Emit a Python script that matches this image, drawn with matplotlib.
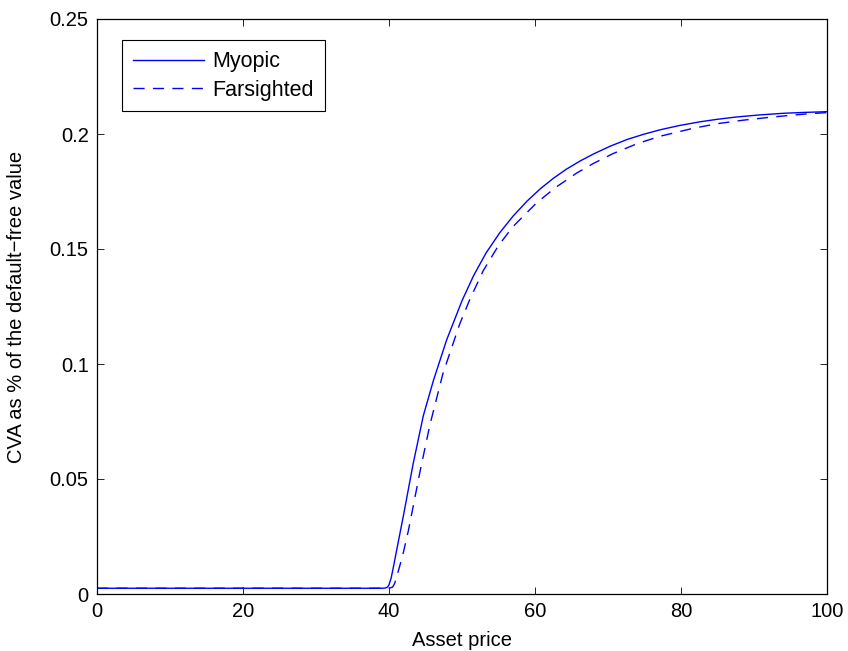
import numpy as np
import matplotlib.pyplot as plt

# values
myopic_x = [0, 10, 20, 30, 38, 39, 39.5, 39.8, 40, 40.3, 40.6, 41.2, 42, 43.3,
            44.7, 46.1, 47.9, 50, 51.6, 53.3, 55.2, 57, 58.9, 60.7, 62.5, 64.3,
            66.2, 68, 70.3, 72.6, 74.8, 77.1, 79.8, 82.6, 85, 87.6, 90.8, 94,
            97, 100]
myopic_y = [0.0025, 0.0025, 0.0025, 0.0025, 0.0025, 0.0025, 0.0026, 0.003,
            0.004, 0.007, 0.0117, 0.0215, 0.0345, 0.0565, 0.0775, 0.093,
            0.1105, 0.1275, 0.1385, 0.1483, 0.1572, 0.1643, 0.1708, 0.1761,
            0.1807, 0.1847, 0.1883, 0.1913, 0.1947, 0.1976, 0.1998, 0.2018,
            0.2037, 0.2053, 0.2064, 0.2074, 0.2083, 0.209, 0.2094, 0.2097]

farsighted_x = [0, 10, 20, 30, 39, 40, 40.5, 40.8, 41.05, 41.5, 42, 42.65, 43.4,
                44.2, 45.6, 47.4, 49.7, 51.1, 52.9, 55, 57, 60.2, 62.8, 65.7,
                68, 70.7, 74, 77.1, 81.7, 85, 88.5, 91.7, 94.9, 97.5, 100]
farsighted_y = [0.0025, 0.0025, 0.0025, 0.0025, 0.0025, 0.0025, 0.003, 0.0048,
                0.0075, 0.0125, 0.0185, 0.0275, 0.0395, 0.0525, 0.0735, 0.096,
                0.1175, 0.1283, 0.1405, 0.1515, 0.1598, 0.170, 0.1767, 0.183,
                0.1872, 0.1915, 0.1958, 0.199, 0.2025, 0.2045, 0.206, 0.2071,
                0.2081, 0.2088, 0.2093]

xticks = [0, 20, 40, 60, 80, 100]
yticks = [0, 0.05, 0.1, 0.15, 0.2, 0.25]

plt.rcParams['font.family'] = ['Liberation Sans', 'DejaVu Sans']
plt.rcParams['font.size'] = 14.5

fig = plt.figure(figsize=(8.48, 6.51), dpi=100)
ax = fig.add_axes([97 / 848, 57 / 651, 730 / 848, 575 / 651])

ax.plot(myopic_x, myopic_y, color='#0000ff', lw=1.0, label='Myopic')
ax.plot(farsighted_x, farsighted_y, color='#0000ff', lw=1.0,
        dashes=(8, 6), label='Farsighted')

ax.set_xlim(0, 100)
ax.set_ylim(0, 0.25)
ax.set_xticks(xticks)
ax.set_yticks(yticks)
ax.set_xticklabels(['%g' % v for v in xticks])
ax.set_yticklabels(['%g' % v for v in yticks])
ax.tick_params(direction='in', length=5, width=0.6, top=True, right=True,
               pad=6, labelsize=14.5)
for sp in ax.spines.values():
    sp.set_linewidth(0.9)

ax.set_xlabel('Asset price', fontsize=14.5, labelpad=7)
ax.set_ylabel('CVA as % of the default\u2212free value', fontsize=14.5, labelpad=17)

leg = ax.legend(loc='upper left', bbox_to_anchor=(0.034, 0.963),
                borderaxespad=0, fancybox=False, framealpha=1,
                edgecolor='black', handlelength=3.3, handletextpad=0.4,
                borderpad=0.5, labelspacing=0.35, fontsize=15.5)
leg.get_frame().set_linewidth(0.8)

fig.savefig('out.png', dpi=100)
